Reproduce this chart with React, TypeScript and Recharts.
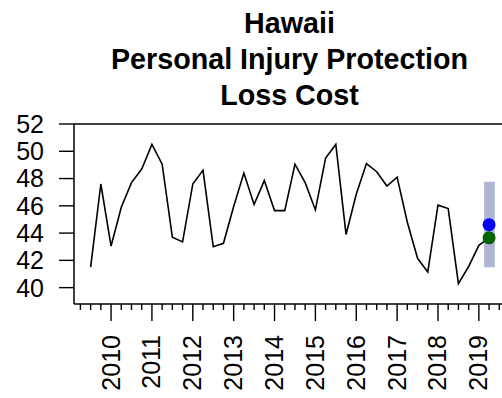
import {
  ComposedChart,
  Line,
  XAxis,
  YAxis,
  ReferenceArea,
  ReferenceDot,
  ReferenceLine,
} from "recharts";

// quarterly loss cost, 2009 Q3 .. 2019 Q2 (last point is the current estimate)
const quarters = [
  2009.5, 2009.75, 2010.0, 2010.25, 2010.5, 2010.75, 2011.0, 2011.25, 2011.5, 2011.75,
  2012.0, 2012.25, 2012.5, 2012.75, 2013.0, 2013.25, 2013.5, 2013.75, 2014.0, 2014.25,
  2014.5, 2014.75, 2015.0, 2015.25, 2015.5, 2015.75, 2016.0, 2016.25, 2016.5, 2016.75,
  2017.0, 2017.25, 2017.5, 2017.75, 2018.0, 2018.25, 2018.5, 2018.75, 2019.0, 2019.25,
];
const lossCost = [
  41.5, 47.6, 43.05, 45.9, 47.7, 48.7, 50.5, 49.05, 43.7, 43.35,
  47.6, 48.6, 43.0, 43.25, 45.95, 48.4, 46.1, 47.85, 45.65, 45.65,
  49.05, 47.7, 45.7, 49.5, 50.5, 43.9, 46.85, 49.1, 48.5, 47.45,
  48.1, 44.8, 42.15, 41.15, 46.05, 45.8, 40.3, 41.55, 43.1, 43.65,
];

// forecast point and its interval
const forecastAt = 2019.25;
const forecastValue = 44.62;
const currentValue = 43.65;
const intervalX = [2019.13, 2019.39];
const intervalY = [41.49, 47.77];

const yearTicks = [2010, 2011, 2012, 2013, 2014, 2015, 2016, 2017, 2018, 2019];
const minorTicks = [
  2009.25, 2009.5, 2009.75, 2010, 2010.25, 2010.5, 2010.75, 2011, 2011.25, 2011.5, 2011.75,
  2012, 2012.25, 2012.5, 2012.75, 2013, 2013.25, 2013.5, 2013.75, 2014, 2014.25, 2014.5,
  2014.75, 2015, 2015.25, 2015.5, 2015.75, 2016, 2016.25, 2016.5, 2016.75, 2017, 2017.25,
  2017.5, 2017.75, 2018, 2018.25, 2018.5, 2018.75, 2019, 2019.25, 2019.5,
];
const yTicks = [40, 42, 44, 46, 48, 50, 52];
const titleLines = ["Hawaii", "Personal Injury Protection", "Loss Cost"];

const table = quarters.map((t, i) => ({ t, value: lossCost[i] }));

function QuarterTick(props: any) {
  const { x, y, payload } = props;
  const isYear = yearTicks.includes(payload.value);
  return (
    <g>
      <line x1={x} y1={y} x2={x} y2={y + (isYear ? 17 : 6)} stroke="#000" strokeWidth={1.4} />
      {isYear && (
        <text
          transform={`translate(${x + 8.5}, ${y + 31}) rotate(-90)`}
          textAnchor="end"
          fontSize={25}
          fill="#000"
        >
          {payload.value}
        </text>
      )}
    </g>
  );
}

export default function App() {
  return (
    <div
      style={{
        position: "absolute",
        left: 0,
        top: 0,
        width: 502,
        height: 398,
        overflow: "hidden",
        background: "#fff",
        fontFamily: "'Liberation Sans', Arial, sans-serif",
      }}
    >
      <div
        style={{
          position: "absolute",
          left: 74,
          top: 5,
          width: 431,
          textAlign: "center",
          fontWeight: "bold",
          fontSize: 28.7,
          lineHeight: "36px",
          color: "#000",
        }}
      >
        {titleLines.map((l) => (
          <div key={l}>{l}</div>
        ))}
      </div>

      <ComposedChart
        width={510}
        height={398}
        data={table}
        margin={{ top: 124, right: 5, bottom: 0, left: 0 }}
      >
        <XAxis
          dataKey="t"
          type="number"
          domain={[2009.093, 2019.64]}
          allowDataOverflow
          ticks={minorTicks}
          interval={0}
          height={94}
          tickSize={0}
          tickMargin={0}
          tickLine={false}
          tick={<QuarterTick />}
          axisLine={{ stroke: "#000", strokeWidth: 1.5 }}
        />
        <YAxis
          type="number"
          domain={[38.8, 52]}
          allowDataOverflow
          ticks={yTicks}
          interval={0}
          width={74}
          tickSize={15}
          tickMargin={15}
          tick={{ fontSize: 25, fill: "#000" }}
          tickLine={{ stroke: "#000", strokeWidth: 1.4 }}
          axisLine={{ stroke: "#000", strokeWidth: 1.5 }}
        />
        {/* top edge of the plot frame */}
        <ReferenceLine y={52} stroke="#000" strokeWidth={1.5} ifOverflow="visible" />
        <ReferenceArea
          x1={intervalX[0]}
          x2={intervalX[1]}
          y1={intervalY[0]}
          y2={intervalY[1]}
          fill="#B1B5D5"
          fillOpacity={1}
          stroke="none"
        />
        <Line
          type="linear"
          dataKey="value"
          stroke="#000"
          strokeWidth={1.6}
          dot={false}
          activeDot={false}
          isAnimationActive={false}
        />
        <ReferenceDot x={forecastAt} y={forecastValue} r={6.5} fill="#0000FF" stroke="none" />
        <ReferenceDot x={forecastAt} y={currentValue} r={6.5} fill="#006400" stroke="none" />
      </ComposedChart>
    </div>
  );
}
